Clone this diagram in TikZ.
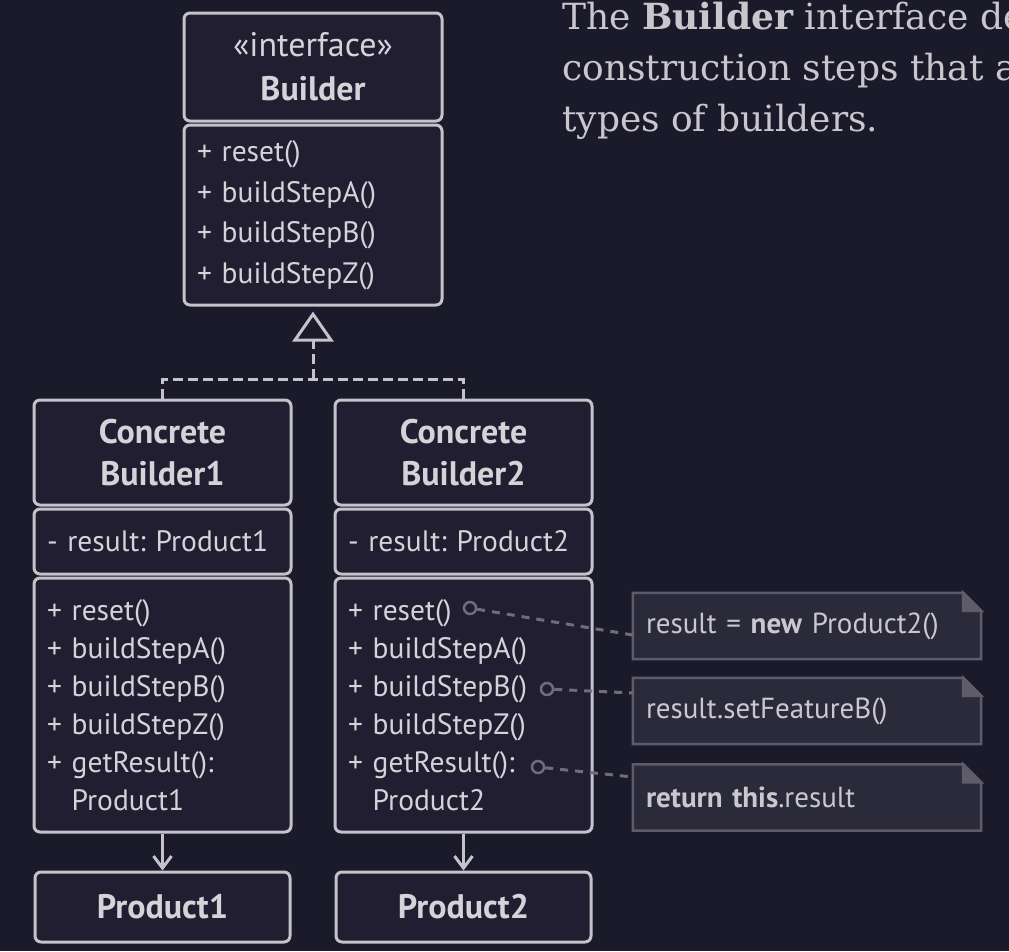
\documentclass[tikz,border=0pt]{standalone}
\usepackage{fontspec}
\usepackage{tikz}
\usetikzlibrary{shapes.geometric, arrows.meta}
\setmainfont{PT Sans}
\newfontfamily\descfont{DejaVu Serif}
\frenchspacing

\definecolor{bgcol}{HTML}{1B1A2B}
\definecolor{boxcol}{HTML}{201E30}
\definecolor{linecol}{HTML}{C4C3CA}
\definecolor{textcol}{HTML}{D4D3D8}
\definecolor{notefill}{HTML}{2B2A3A}
\definecolor{noteline}{HTML}{5E5C6A}
\definecolor{notetext}{HTML}{C9C8CF}
\definecolor{linkcol}{HTML}{6E6D78}
\definecolor{desctext}{HTML}{C8C7CD}

\pgfdeclarelayer{back}
\pgfsetlayers{back,main}

\tikzstyle{box} = [draw=linecol, fill=boxcol, line width=3pt, rounded corners=6pt, text=textcol, inner xsep=13pt, inner ysep=0pt, minimum width=257pt]
\tikzstyle{head} = [box, align=center, font=\fontsize{34}{42}\selectfont\bfseries]
\tikzstyle{members} = [box, align=left, text width=231pt, font=\fontsize{29.5}{38}\selectfont]
\tikzstyle{note} = [text=notetext, inner xsep=13pt, inner ysep=0pt, minimum width=348pt, minimum height=66pt, text width=322pt, align=left, font=\fontsize{29}{32}\selectfont]
\tikzstyle{notebox} = [draw=noteline, fill=notefill, line width=2.5pt]
\tikzstyle{arrow} = [draw=linecol, line width=3pt, -{Straight Barb[length=12pt, width=18pt]}]
\tikzstyle{realize} = [draw=linecol, line width=3pt, dash pattern=on 10pt off 5pt]
\tikzstyle{link} = [draw=linkcol, line width=3pt, dash pattern=on 8pt off 7pt]
\tikzstyle{hook} = [circle, draw=linkcol, fill=boxcol, line width=2.5pt, minimum size=12pt, inner sep=0pt]
\tikzstyle{desc} = [text=desctext, inner sep=0pt, anchor=base west, font=\descfont\fontsize{36}{51}\selectfont]

\begin{document}
\begin{tikzpicture}[x=1pt, y=-1pt]
    \useasboundingbox (0,0) rectangle (1009,951);
    \begin{pgfonlayer}{back}
        \fill[bgcol] (0,0) rectangle (1009,951);
    \end{pgfonlayer}
    \clip (0,0) rectangle (1009,951);

    % Builder interface
    \node[head, minimum width=258pt, minimum height=108pt, font=\fontsize{34}{44}\selectfont\bfseries] (BH) at (313,67) {{\mdseries «interface»}\\Builder};
    \node[members, minimum width=258pt, text width=232pt, minimum height=180pt, font=\fontsize{29.5}{40.5}\selectfont] (BB) at (313,215) {+ reset()\\+ buildStepA()\\+ buildStepB()\\+ buildStepZ()};

    % Concrete builders and their products
    \foreach \i/\x in {1/162.5, 2/463.5} {
        \node[head, minimum height=105pt] (CH\i) at (\x,452.5) {Concrete\\Builder\i};
        \node[members, minimum height=65pt] (CA\i) at (\x,541.5) {- result: Product\i};
        \node[members, minimum height=254pt] (CM\i) at (\x,705) {+ reset()\\+ buildStepA()\\+ buildStepB()\\+ buildStepZ()\\+ getResult():\\\hphantom{+ }Product\i};
        \node[head, minimum width=255pt, minimum height=70pt] (P\i) at (\x,907) {Product\i};
        \draw[arrow] (CM\i.south) -- (CM\i.south |- P\i.north);
    }

    % Realization of the interface
    \coordinate (join) at (313,379);
    \draw[realize] (CH1.north) |- (join) -| (CH2.north);
    \draw[realize, -{Triangle[open, length=30pt, width=41pt]}, shorten >=5pt] (join) -- (BB.south);

    % Notes
    \node[note] (NA) at (807,626) {result = \textbf{new} Product2()};
    \node[note] (NB) at (807,711) {result.setFeatureB()};
    \node[note] (NC) at (807,797.5) {\textbf{return this}.result};
    \begin{pgfonlayer}{back}
        \foreach \n in {NA,NB,NC} {
            \filldraw[notebox] (\n.north west) -- ([xshift=-18pt]\n.north east) -- ([yshift=-18pt]\n.north east) -- (\n.south east) -- (\n.south west) -- cycle;
            \filldraw[notebox, fill=noteline] ([xshift=-18pt]\n.north east) -- ([xshift=-18pt, yshift=-18pt]\n.north east) -- ([yshift=-18pt]\n.north east) -- cycle;
        }
    \end{pgfonlayer}

    % Links from methods to notes
    \node[hook] (HA) at (470,608) {};
    \node[hook] (HB) at (547,689) {};
    \node[hook] (HC) at (538,767) {};
    \draw[link] (HA) -- ([yshift=-9pt]NA.west);
    \draw[link] (HB) -- ([yshift=18pt]NB.west);
    \draw[link] (HC) -- ([yshift=20.5pt]NC.west);

    % Description
    \foreach \txt [count=\i] in {{The \textbf{Builder} interface de}, {construction steps that a}, {types of builders.}}
        \node[desc] (D\i) at (562,-22+51*\i) {\txt};
\end{tikzpicture}
\end{document}
